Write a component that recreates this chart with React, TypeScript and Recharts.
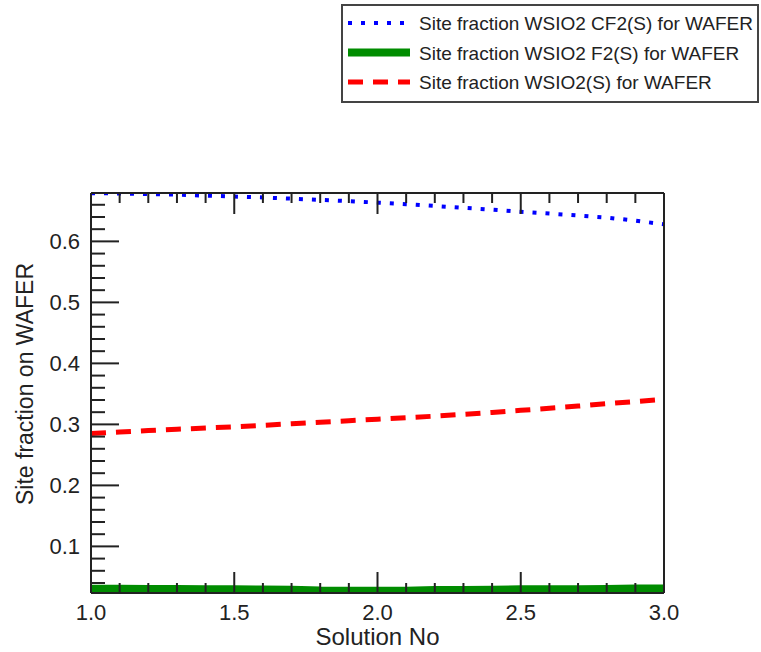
import React from "react";
import {
  LineChart,
  Line,
  XAxis,
  YAxis,
  Legend,
} from "recharts";

// solution number along the x axis
const solutionNo = [
  1.0, 1.1, 1.2, 1.3, 1.4, 1.5, 1.6, 1.7, 1.8, 1.9, 2.0,
  2.1, 2.2, 2.3, 2.4, 2.5, 2.6, 2.7, 2.8, 2.9, 3.0,
];

// site fractions
const cf2Fraction = [
  0.679, 0.6785, 0.6775, 0.6765, 0.675, 0.6735, 0.672, 0.67, 0.668, 0.666, 0.6635,
  0.661, 0.658, 0.655, 0.652, 0.6485, 0.6455, 0.6425, 0.639, 0.634, 0.628,
];
const f2Fraction = [
  0.0305, 0.0305, 0.0302, 0.03, 0.0298, 0.0296, 0.0293, 0.029, 0.0275, 0.0272, 0.0271,
  0.0272, 0.0285, 0.0287, 0.0288, 0.0296, 0.0298, 0.0299, 0.03, 0.0308, 0.031,
];
const sio2Fraction = [
  0.285, 0.2875, 0.29, 0.292, 0.294, 0.296, 0.2985, 0.301, 0.3035, 0.306, 0.3085,
  0.311, 0.3135, 0.3165, 0.3195, 0.323, 0.3265, 0.33, 0.334, 0.3375, 0.341,
];

const seriesNames = [
  "Site fraction WSIO2 CF2(S) for WAFER",
  "Site fraction WSIO2 F2(S) for WAFER",
  "Site fraction WSIO2(S) for WAFER",
];

const xTicks = [
  1.0, 1.1, 1.2, 1.3, 1.4, 1.5, 1.6, 1.7, 1.8, 1.9, 2.0,
  2.1, 2.2, 2.3, 2.4, 2.5, 2.6, 2.7, 2.8, 2.9, 3.0,
];
const yTicks = [
  0.04, 0.06, 0.08, 0.1, 0.12, 0.14, 0.16, 0.18, 0.2, 0.22, 0.24, 0.26, 0.28, 0.3,
  0.32, 0.34, 0.36, 0.38, 0.4, 0.42, 0.44, 0.46, 0.48, 0.5, 0.52, 0.54, 0.56, 0.58,
  0.6, 0.62, 0.64, 0.66,
];
const xMajor = [1.0, 1.5, 2.0, 2.5, 3.0];
const yMajor = [0.1, 0.2, 0.3, 0.4, 0.5, 0.6];

const data = solutionNo.map((x, i) => ({
  x,
  cf2: cf2Fraction[i],
  f2: f2Fraction[i],
  sio2: sio2Fraction[i],
}));

const FONT = "'Liberation Sans', Arial, Helvetica, sans-serif";
const INK = "#222";

const styles = [
  { key: "cf2", color: "#0000ff", width: 4, dash: "4 9" },
  { key: "f2", color: "#008c00", width: 8, dash: undefined },
  { key: "sio2", color: "#ff0000", width: 5, dash: "15 10" },
];

const isIn = (v: number, list: number[]) => list.some((m) => Math.abs(m - v) < 1e-6);

const XTick = ({ x, y, payload, top }: any) => {
  const major = isIn(payload.value, xMajor);
  const len = major ? 21 : 10;
  return (
    <g>
      <line x1={x} x2={x} y1={y} y2={top ? y + len : y - len} stroke={INK} strokeWidth={2} />
      {!top && major && (
        <text x={x} y={y + 27} textAnchor="middle" fontSize={22} fontFamily={FONT} fill={INK}>
          {payload.value.toFixed(1)}
        </text>
      )}
    </g>
  );
};

const YTick = ({ x, y, payload, right }: any) => {
  const major = isIn(payload.value, yMajor);
  const len = major ? 28 : 14;
  return (
    <g>
      <line x1={x} x2={right ? x - len : x + len} y1={y} y2={y} stroke={INK} strokeWidth={2} />
      {!right && major && (
        <text x={x - 11} y={y + 8} textAnchor="end" fontSize={22} fontFamily={FONT} fill={INK}>
          {payload.value.toFixed(1)}
        </text>
      )}
    </g>
  );
};

const LegendBox = () => (
  <div style={{ border: "2px solid #444", background: "#fff", width: 414, height: 95 }}>
    <svg width={414} height={95}>
      {styles.map((s, i) => {
        const cy = 17 + i * 29.5;
        return (
          <g key={s.key}>
            <line
              x1={5}
              x2={67}
              y1={cy}
              y2={cy}
              stroke={s.color}
              strokeWidth={s.width}
              strokeDasharray={s.dash}
            />
            <text x={76} y={cy + 7} fontSize={19} fontFamily={FONT} fill={INK}>
              {seriesNames[i]}
            </text>
          </g>
        );
      })}
    </svg>
  </div>
);

const App = () => {
  const domainY: [number, number] = [0.0236, 0.6793];
  return (
    <div style={{ position: "absolute", left: 0, top: 0 }}>
      <LineChart
        width={761}
        height={652}
        data={data}
        margin={{ top: 192, right: 96, bottom: 58, left: 90 }}
      >
        <XAxis
          dataKey="x"
          type="number"
          domain={[1, 3]}
          ticks={xTicks}
          interval={0}
          height={1}
          tickSize={0}
          tickMargin={0}
          tickLine={false}
          allowDataOverflow
          axisLine={{ stroke: INK, strokeWidth: 2 }}
          tick={<XTick />}
          label={{
            content: ({ viewBox }: any) => (
              <text
                x={viewBox.x + viewBox.width / 2}
                y={viewBox.y + 52}
                textAnchor="middle"
                fontSize={24}
                fontFamily={FONT}
                fill={INK}
              >
                Solution No
              </text>
            ),
          }}
        />
        <XAxis
          xAxisId="top"
          orientation="top"
          dataKey="x"
          type="number"
          domain={[1, 3]}
          ticks={xTicks}
          interval={0}
          height={1}
          tickSize={0}
          tickMargin={0}
          tickLine={false}
          axisLine={{ stroke: INK, strokeWidth: 2 }}
          tick={<XTick top />}
        />
        <YAxis
          type="number"
          domain={domainY}
          ticks={yTicks}
          interval={0}
          width={1}
          tickSize={0}
          tickMargin={0}
          tickLine={false}
          allowDataOverflow
          axisLine={{ stroke: INK, strokeWidth: 2 }}
          tick={<YTick />}
          label={{
            content: ({ viewBox }: any) => {
              const cx = viewBox.x - 57;
              const cy = viewBox.y + viewBox.height / 2 - 9;
              return (
                <text
                  x={cx}
                  y={cy}
                  transform={`rotate(-90 ${cx} ${cy})`}
                  textAnchor="middle"
                  fontSize={23}
                  fontFamily={FONT}
                  fill={INK}
                >
                  Site fraction on WAFER
                </text>
              );
            },
          }}
        />
        <YAxis
          yAxisId="right"
          orientation="right"
          type="number"
          domain={domainY}
          ticks={yTicks}
          interval={0}
          width={1}
          tickSize={0}
          tickMargin={0}
          tickLine={false}
          axisLine={{ stroke: INK, strokeWidth: 2 }}
          tick={<YTick right />}
        />
        <Legend
          layout="vertical"
          align="center"
          verticalAlign="middle"
          content={<LegendBox />}
          wrapperStyle={{ position: "absolute", left: 341, top: 4, width: 418, height: 99 }}
        />
        {styles.map((s, i) => (
          <Line
            key={s.key}
            dataKey={s.key}
            name={seriesNames[i]}
            type="linear"
            stroke={s.color}
            strokeWidth={s.width}
            strokeDasharray={s.dash}
            strokeLinecap="butt"
            dot={false}
            activeDot={false}
            isAnimationActive={false}
          />
        ))}
      </LineChart>
    </div>
  );
};

export default App;
